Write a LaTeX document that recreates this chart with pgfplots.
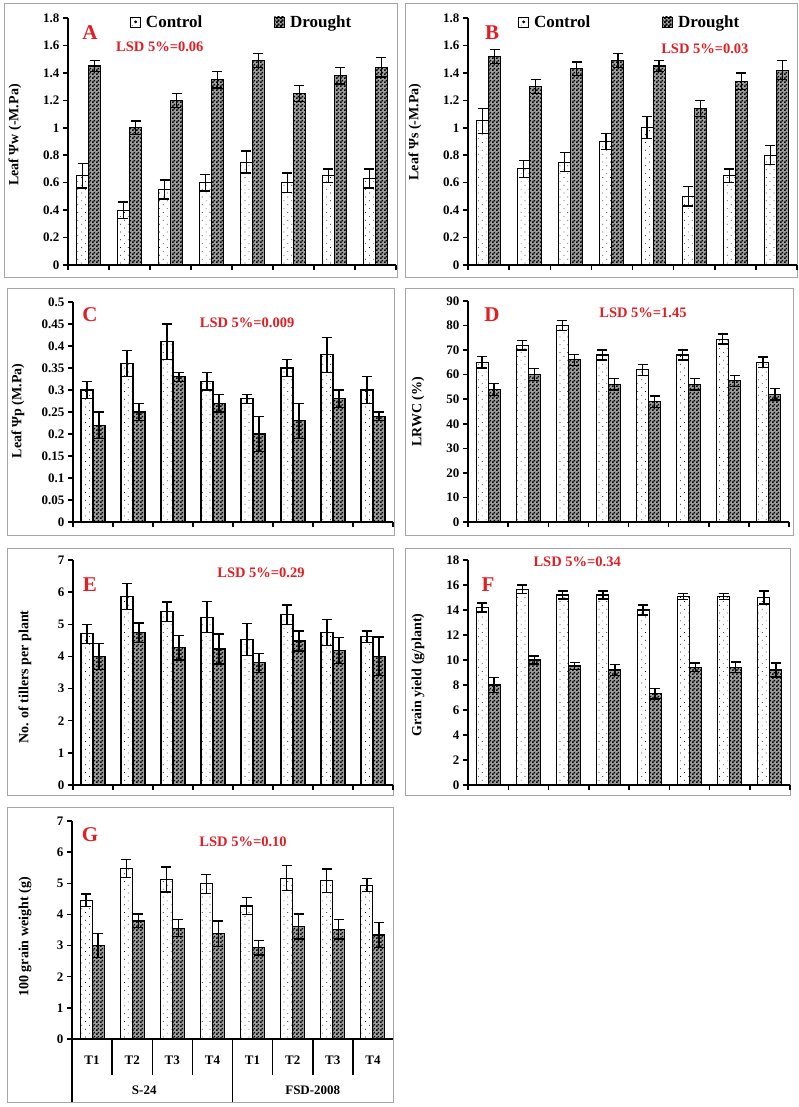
\documentclass[border=0pt]{standalone}
\usepackage{fontspec}
\setmainfont{Liberation Serif}
\usepackage{pgfplots}
\pgfplotsset{compat=1.18}
\usepackage{pgfplotstable}
\usetikzlibrary{patterns.meta}
\definecolor{lsdred}{RGB}{225,30,35}
\definecolor{framegray}{RGB}{165,165,165}

\tikzdeclarepattern{
  name=checker,
  type=uncolored,
  bounding box={(0pt,0pt) and (4pt,4pt)},
  tile size={(4pt,4pt)},
  code={
    \pgfpathrectangle{\pgfpoint{0pt}{0pt}}{\pgfpoint{2pt}{2pt}}
    \pgfpathrectangle{\pgfpoint{2pt}{2pt}}{\pgfpoint{2pt}{2pt}}
    \pgfusepath{fill}
  }
}

\pgfplotstableread{
x c ce d de
0.5 0.65 0.09 1.45 0.04
1.5 0.40 0.06 1.00 0.05
2.5 0.55 0.07 1.20 0.05
3.5 0.60 0.06 1.35 0.06
4.5 0.75 0.08 1.49 0.05
5.5 0.60 0.07 1.25 0.06
6.5 0.65 0.05 1.38 0.06
7.5 0.63 0.07 1.44 0.07
}\tabA
\pgfplotstableread{
x c ce d de
0.5 1.05 0.09 1.52 0.05
1.5 0.70 0.06 1.30 0.05
2.5 0.75 0.07 1.43 0.05
3.5 0.90 0.06 1.49 0.05
4.5 1.00 0.08 1.45 0.04
5.5 0.50 0.07 1.14 0.06
6.5 0.65 0.05 1.34 0.06
7.5 0.80 0.07 1.42 0.07
}\tabB
\pgfplotstableread{
x c ce d de
0.5 0.30 0.02 0.22 0.03
1.5 0.36 0.03 0.25 0.02
2.5 0.41 0.04 0.33 0.01
3.5 0.32 0.02 0.27 0.02
4.5 0.28 0.01 0.20 0.04
5.5 0.35 0.02 0.23 0.04
6.5 0.38 0.04 0.28 0.02
7.5 0.30 0.03 0.24 0.01
}\tabC
\pgfplotstableread{
x c ce d de
0.5 65 2.3 54 2.5
1.5 72 2.0 60 2.5
2.5 80 2.0 66 2.3
3.5 68 2.0 56 2.3
4.5 62 2.2 49 2.3
5.5 68 2.0 56 2.3
6.5 74.5 2.0 57.5 2.2
7.5 65 2.2 52 2.3
}\tabD
\pgfplotstableread{
x c ce d de
0.5 4.70 0.30 4.00 0.40
1.5 5.86 0.40 4.74 0.30
2.5 5.39 0.30 4.27 0.38
3.5 5.22 0.48 4.23 0.47
4.5 4.53 0.50 3.80 0.30
5.5 5.30 0.30 4.48 0.31
6.5 4.74 0.40 4.18 0.40
7.5 4.61 0.18 4.00 0.60
}\tabE
\pgfplotstableread{
x c ce d de
0.5 14.2 0.37 8.0 0.60
1.5 15.65 0.35 10.0 0.32
2.5 15.2 0.32 9.52 0.27
3.5 15.2 0.32 9.2 0.43
4.5 14.0 0.40 7.3 0.43
5.5 15.1 0.24 9.41 0.35
6.5 15.1 0.24 9.41 0.43
7.5 15.0 0.53 9.2 0.56
}\tabF
\pgfplotstableread{
x c ce d de
0.5 4.46 0.20 3.00 0.39
1.5 5.47 0.29 3.79 0.22
2.5 5.12 0.40 3.56 0.27
3.5 4.98 0.31 3.38 0.41
4.5 4.27 0.27 2.93 0.23
5.5 5.16 0.40 3.61 0.40
6.5 5.08 0.38 3.52 0.31
7.5 4.94 0.21 3.34 0.40
}\tabG

\tikzset{
  lsd/.style={font=\bfseries\fontsize{14.5}{14.5}\selectfont, text=lsdred},
  plet/.style={font=\bfseries\fontsize{21}{21}\selectfont, text=lsdred},
  tlab/.style={font=\bfseries\fontsize{13}{13}\selectfont},
}
\pgfplotsset{
  panel/.style={
    scale only axis, anchor=south west,
    ybar=0pt, bar width=12pt,
    xmin=0, xmax=8, ymin=0, enlargelimits=false,
    xtick={0,1,2,3,4,5,6,7,8}, xticklabels={},
    axis x line*=bottom, axis y line*=left,
    axis line style={line width=1.8pt},
    tick align=outside, major tick length=5pt,
    every tick/.style={black, line width=1.5pt},
    tick label style={font=\bfseries\fontsize{13}{13}\selectfont},
    /pgf/number format/assume math mode=true,
    scaled y ticks=false,
    yticklabel style={/pgf/number format/fixed},
    ylabel style={font=\bfseries\fontsize{14}{14}\selectfont, anchor=center},
    clip=false,
    error bars/y dir=both, error bars/y explicit,
    error bars/error bar style={line width=1.3pt, black},
    error bars/error mark options={rotate=90, mark size=5pt, line width=1.3pt, black},
  },
  ctrl/.style={draw=black, line width=1.1pt, fill=white,
    postaction={pattern={Dots[distance=5.5pt, angle=45, radius=0.5pt]}, pattern color=black},
    legend image code/.code={\draw[line width=0.8pt, draw=black, fill=white] (0pt,-5pt) rectangle (10pt,5pt);
      \fill[black] (5pt,0pt) circle (0.6pt);}},
  drgt/.style={draw=black, line width=1.1pt, fill=black!38,
    postaction={pattern=checker, pattern color=black},
    legend image code/.code={\draw[line width=0.8pt, draw=black, fill=black!38, postaction={pattern=checker, pattern color=black}] (0pt,-5pt) rectangle (10pt,5pt);}},
  leg/.style={legend columns=2,
    legend style={draw=none, fill=none, inner sep=0pt, anchor=west,
      font=\bfseries\fontsize{17}{17}\selectfont,
      /tikz/every odd column/.append style={column sep=3pt},
      /tikz/every even column/.append style={column sep=70pt}}},
}

\begin{document}
\begin{tikzpicture}
\useasboundingbox (0pt,0pt) rectangle (799pt,1107pt);
\fill[white] (0pt,0pt) rectangle (799pt,1107pt);
% frames
\draw[framegray, line width=0.9pt] (4pt,830pt) rectangle (397pt,1104pt);
\draw[framegray, line width=0.9pt] (405pt,830pt) rectangle (797pt,1104pt);
\draw[framegray, line width=0.9pt] (7pt,572pt) rectangle (394pt,819pt);
\draw[framegray, line width=0.9pt] (405pt,572pt) rectangle (793pt,819pt);
\draw[framegray, line width=0.9pt] (7pt,312pt) rectangle (393pt,559pt);
\draw[framegray, line width=0.9pt] (405pt,312pt) rectangle (790pt,559pt);
\draw[framegray, line width=0.9pt] (7pt,5pt) rectangle (393pt,300pt);

% A
\begin{axis}[panel, leg, at={(68pt,842pt)}, width=328pt, height=247pt,
  ymax=1.8, ytick={0,0.2,0.4,0.6,0.8,1,1.2,1.4,1.6,1.8},
  ylabel={Leaf Ψw (-M.Pa)},
  ylabel style={at={(axis description cs:-0.162,0.526)}},
  legend style={at={(axis description cs:0.189,0.984)}}]
\addplot[ctrl] table[x=x, y=c, y error=ce] {\tabA};
\addlegendentry{Control}
\addplot[drgt] table[x=x, y=d, y error=de] {\tabA};
\addlegendentry{Drought}
\node[plet] at (axis description cs:0.067,0.939) {A};
\node[lsd] at (axis description cs:0.280,0.883) {LSD 5\%=0.06};
\end{axis}

% B
\begin{axis}[panel, leg, at={(468pt,842pt)}, width=329pt, height=247pt,
  ymax=1.8, ytick={0,0.2,0.4,0.6,0.8,1,1.2,1.4,1.6,1.8},
  ylabel={Leaf Ψs (-M.Pa)},
  ylabel style={at={(axis description cs:-0.161,0.538)}},
  legend style={at={(axis description cs:0.152,0.984)}}]
\addplot[ctrl] table[x=x, y=c, y error=ce] {\tabB};
\addlegendentry{Control}
\addplot[drgt] table[x=x, y=d, y error=de] {\tabB};
\addlegendentry{Drought}
\node[plet] at (axis description cs:0.073,0.939) {B};
\node[lsd] at (axis description cs:0.720,0.874) {LSD 5\%=0.03};
\end{axis}

% C
\begin{axis}[panel, at={(73pt,585pt)}, width=320pt, height=220pt,
  ymax=0.5, ytick={0,0.05,0.1,0.15,0.2,0.25,0.3,0.35,0.4,0.45,0.5},
  ylabel={Leaf Ψp (M.Pa)},
  ylabel style={at={(axis description cs:-0.172,0.505)}}]
\addplot[ctrl] table[x=x, y=c, y error=ce] {\tabC};
\addplot[drgt] table[x=x, y=d, y error=de] {\tabC};
\node[plet] at (axis description cs:0.053,0.941) {C};
\node[lsd] at (axis description cs:0.544,0.905) {LSD 5\%=0.009};
\end{axis}

% D
\begin{axis}[panel, at={(468pt,585pt)}, width=321pt, height=221pt,
  ymax=90, ytick={0,10,20,30,40,50,60,70,80,90},
  ylabel={LRWC (\%)},
  ylabel style={at={(axis description cs:-0.156,0.498)}}]
\addplot[ctrl] table[x=x, y=c, y error=ce] {\tabD};
\addplot[drgt] table[x=x, y=d, y error=de] {\tabD};
\node[plet] at (axis description cs:0.075,0.937) {D};
\node[lsd] at (axis description cs:0.545,0.946) {LSD 5\%=1.45};
\end{axis}

% E
\begin{axis}[panel, at={(73pt,322pt)}, width=320pt, height=225pt,
  ymax=7, ytick={0,1,2,3,4,5,6,7},
  ylabel={No. of tillers per plant},
  ylabel style={at={(axis description cs:-0.150,0.480)}}]
\addplot[ctrl] table[x=x, y=c, y error=ce] {\tabE};
\addplot[drgt] table[x=x, y=d, y error=de] {\tabE};
\node[plet] at (axis description cs:0.053,0.889) {E};
\node[lsd] at (axis description cs:0.5875,0.942) {LSD 5\%=0.29};
\end{axis}

% F
\begin{axis}[panel, at={(468pt,322pt)}, width=322pt, height=225pt,
  ymax=18, ytick={0,2,4,6,8,10,12,14,16,18},
  ylabel={Grain yield (g/plant)},
  ylabel style={at={(axis description cs:-0.155,0.489)}}]
\addplot[ctrl] table[x=x, y=c, y error=ce] {\tabF};
\addplot[drgt] table[x=x, y=d, y error=de] {\tabF};
\node[plet] at (axis description cs:0.062,0.889) {F};
\node[lsd] at (axis description cs:0.339,0.991) {LSD 5\%=0.34};
\end{axis}

% G
\begin{axis}[panel, at={(72pt,68pt)}, width=321pt, height=218pt,
  ymax=7, ytick={0,1,2,3,4,5,6,7},
  major x tick style={draw=none},
  ylabel={100 grain weight (g)},
  ylabel style={at={(axis description cs:-0.146,0.468)}}]
\addplot[ctrl] table[x=x, y=c, y error=ce] {\tabG};
\addplot[drgt] table[x=x, y=d, y error=de] {\tabG};
\node[plet] at (axis description cs:0.056,0.936) {G};
\node[lsd] at (axis description cs:0.533,0.904) {LSD 5\%=0.10};
\draw[line width=1.8pt] (axis cs:0,0) -- ++(0pt,-63pt);
\draw[line width=1.8pt] (axis cs:4,0) -- ++(0pt,-63pt);
\draw[line width=1.5pt] (axis cs:1,0) -- ++(0pt,-36pt);
\draw[line width=1.5pt] (axis cs:2,0) -- ++(0pt,-36pt);
\draw[line width=1.5pt] (axis cs:3,0) -- ++(0pt,-36pt);
\draw[line width=1.5pt] (axis cs:5,0) -- ++(0pt,-36pt);
\draw[line width=1.5pt] (axis cs:6,0) -- ++(0pt,-36pt);
\draw[line width=1.5pt] (axis cs:7,0) -- ++(0pt,-36pt);
\node[tlab] at ([yshift=-21pt]axis cs:0.5,0) {T1};
\node[tlab] at ([yshift=-21pt]axis cs:1.5,0) {T2};
\node[tlab] at ([yshift=-21pt]axis cs:2.5,0) {T3};
\node[tlab] at ([yshift=-21pt]axis cs:3.5,0) {T4};
\node[tlab] at ([yshift=-21pt]axis cs:4.5,0) {T1};
\node[tlab] at ([yshift=-21pt]axis cs:5.5,0) {T2};
\node[tlab] at ([yshift=-21pt]axis cs:6.5,0) {T3};
\node[tlab] at ([yshift=-21pt]axis cs:7.5,0) {T4};
\node[tlab] at ([yshift=-51pt]axis cs:1.8,0) {S-24};
\node[tlab] at ([yshift=-51pt]axis cs:6,0) {FSD-2008};
\end{axis}
\end{tikzpicture}
\end{document}
